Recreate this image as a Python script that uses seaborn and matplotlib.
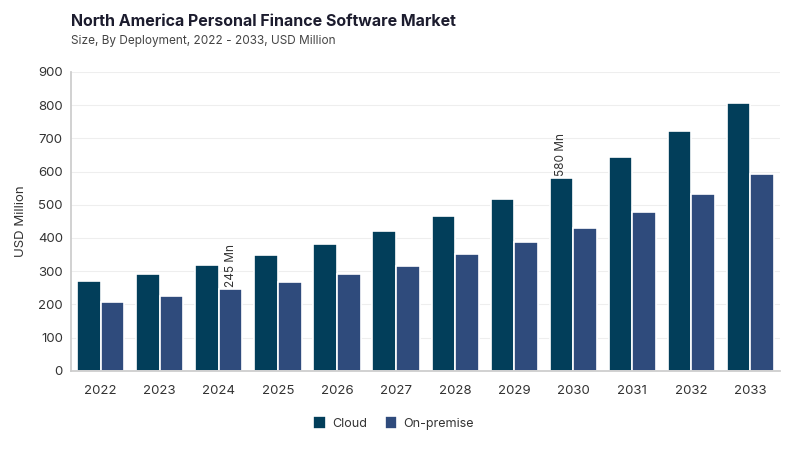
import numpy as np
import pandas as pd
import matplotlib.pyplot as plt
import seaborn as sns

years = ['2022', '2023', '2024', '2025', '2026', '2027', '2028', '2029', '2030', '2031', '2032', '2033']
cloud = [271, 292, 319, 349, 382, 421, 467, 518, 580, 645, 721, 808]
on_premise = [208, 224, 245, 266, 292, 316, 352, 388, 430, 478, 532, 592]
segments = ['Cloud', 'On-premise']
colors = ['#023e5a', '#2f4b7c']

df = pd.DataFrame({
    'year': years * 2,
    'value': cloud + on_premise,
    'segment': ['Cloud'] * len(years) + ['On-premise'] * len(years),
})

sns.set_theme(style='white')
plt.rcParams['font.family'] = ['Inter', 'DejaVu Sans']

fig = plt.figure(figsize=(8, 4.5), dpi=100)
ax = fig.add_axes([0.089, 0.176, 0.886, 0.664])

sns.barplot(data=df, x='year', y='value', hue='segment', hue_order=segments,
            palette=colors, width=0.8, edgecolor='white', linewidth=1.2,
            saturation=1, ax=ax, legend=True)

ax.set_ylim(0, 900)
ax.set_yticks(range(0, 901, 100))
ax.grid(axis='y', color='#eeeeee', linewidth=0.8)
ax.set_axisbelow(True)
for s in ['top', 'right']:
    ax.spines[s].set_visible(False)
ax.spines['left'].set_color('#cccccc')
ax.spines['bottom'].set_color('#cccccc')
ax.tick_params(axis='both', length=0, labelsize=9.5, colors='#333333', pad=6)
ax.tick_params(axis='x', pad=10)
ax.set_xlabel('')
ax.set_ylabel('USD Million', fontsize=9.5, color='#333333', labelpad=8)

# annotations
bars_cloud = ax.containers[0]
bars_on = ax.containers[1]
for bar, val in [(bars_on[2], on_premise[2]), (bars_cloud[8], cloud[8])]:
    ax.text(bar.get_x() + bar.get_width() / 2, val + 8, f'{val} Mn',
            rotation=90, ha='center', va='bottom', fontsize=8.5, color='#333333')

leg = ax.legend(loc='upper center', bbox_to_anchor=(0.455, -0.115), ncol=2,
                frameon=False, fontsize=9, handlelength=1.0, handleheight=1.2,
                columnspacing=1.4, handletextpad=0.5)
for t in leg.get_texts():
    t.set_color('#333333')

fig.text(0.089, 0.952, 'North America Personal Finance Software Market',
         fontsize=11.5, fontweight='bold', color='#1c1c2e', ha='left', va='center')
fig.text(0.089, 0.908, 'Size, By Deployment, 2022 - 2033, USD Million',
         fontsize=8.5, color='#444444', ha='left', va='center')

fig.savefig('out.png', dpi=100)
